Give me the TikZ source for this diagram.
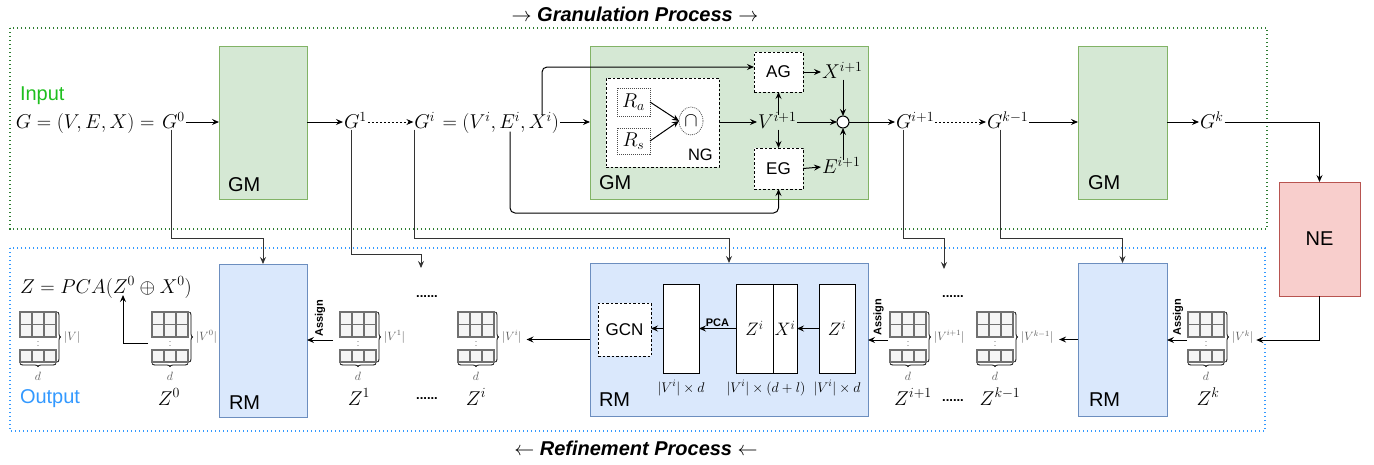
\RequirePackage{fix-cm}
\documentclass[tikz,border=0pt]{standalone}
\usepackage{fontspec}
\setmainfont{Liberation Sans}
\usetikzlibrary{arrows.meta,calc,decorations.pathreplacing,shapes.geometric}
\definecolor{gmfill}{HTML}{D5E8D4}
\definecolor{gmline}{HTML}{82B366}
\definecolor{rmfill}{HTML}{DAE8FC}
\definecolor{rmline}{HTML}{6C8EBF}
\definecolor{nefill}{HTML}{F8CECC}
\definecolor{neline}{HTML}{B85450}
\definecolor{gframe}{HTML}{2E7D32}
\definecolor{bframe}{HTML}{3399FF}
\definecolor{inputc}{HTML}{1FBF1F}
\definecolor{cellfill}{HTML}{F5F5F5}
\definecolor{cellline}{HTML}{707070}
\newcommand\myfs[1]{\fontsize{#1}{#1}\selectfont}
\tikzset{
  every node/.style={inner sep=1pt, outer sep=0pt},
  gm/.style={draw=gmline, fill=gmfill, line width=1pt, anchor=north west},
  rm/.style={draw=rmline, fill=rmfill, line width=1pt, anchor=north west},
  neb/.style={draw=neline, fill=nefill, line width=1pt, anchor=north west},
  dbox/.style={draw, dash pattern=on 2.5pt off 2pt, fill=white, line width=0.8pt, anchor=north west},
  rbox/.style={draw=black!70, dash pattern=on 1pt off 1pt, line width=0.7pt},
  wrect/.style={draw, fill=white, line width=1pt, anchor=north west},
  blab/.style={font=\myfs{20}},
  mrow/.style={font=\myfs{20}, text height=13pt, text depth=0pt},
  zlab/.style={font=\myfs{20}, anchor=base},
  smalllab/.style={font=\myfs{12}, text=black!65},
  bsmall/.style={font=\bfseries\myfs{11}},
  dotslab/.style={font=\bfseries\myfs{13}},
  arr/.style={-{Stealth[length=7pt,width=6pt,inset=2.5pt]}, line width=1pt},
  darr/.style={arr, dash pattern=on 2pt off 2pt},
  garr/.style={arr, draw=black!80},
  cell/.style={draw=cellline, fill=cellfill, line width=1.1pt},
  brc/.style={decorate, decoration={brace, amplitude=3pt}, draw=black, line width=0.8pt},
  frameg/.style={draw=gframe, line width=1.4pt, dash pattern=on 1.4pt off 2.6pt},
  frameb/.style={draw=bframe, line width=1.4pt, dash pattern=on 1.4pt off 2.6pt},
  mtx/.pic={
    \foreach \c in {0,1,2}{
      \foreach \r in {0,1}{\draw[cell] (12*\c,12.5*\r) rectangle ++(12,12.5);}
      \draw[cell] (12*\c,38) rectangle ++(12,12);
    }
    \node[font=\myfs{9}, text=black!60] (-vd) at (18,31) {$\vdots$};
    \draw[brc] (37.5,0) -- (37.5,50);
    \draw[brc] (36,51.5) -- (0,51.5);
    \node[smalllab, anchor=west] (-lab) at (43,25) {$#1$};
    \node[smalllab] (-d) at (18,64) {$d$};
    \node[inner sep=0pt, minimum width=36pt, minimum height=56pt] (-box) at (18,28) {};
  }
}
\begin{document}
\begin{tikzpicture}[x=1pt,y=-1pt]
\useasboundingbox (0,0) rectangle (1374,464);

% titles
\node[font=\bfseries\itshape\myfs{20}] (t1) at (635,14) {$\rightarrow$ Granulation Process $\rightarrow$};
\node[font=\bfseries\itshape\myfs{20}] (t2) at (636,448) {$\leftarrow$ Refinement Process $\leftarrow$};

% frames
\draw[frameg] (10,28) rectangle (1267,229);
\draw[frameb] (10,248) rectangle (1265,431);

\node[blab, text=inputc, anchor=base west] (inp) at (19,100) {Input};
\node[blab, text=bframe, anchor=base west] (outp) at (19,403) {Output};

% GM boxes
\node[gm, minimum width=88pt, minimum height=153pt] (gm1) at (219,46) {};
\node[blab, anchor=base west] (gm1l) at (227,191) {GM};
\node[gm, minimum width=278pt, minimum height=153pt] (gm2) at (590,46) {};
\node[blab, anchor=base west] (gm2l) at (598,189) {GM};
\node[gm, minimum width=89pt, minimum height=153pt] (gm3) at (1078,46) {};
\node[blab, anchor=base west] (gm3l) at (1087,189) {GM};

% RM boxes and NE
\node[rm, minimum width=88pt, minimum height=153pt] (rm1) at (219,264) {};
\node[blab, anchor=base west] (rm1l) at (228,409) {RM};
\node[rm, minimum width=278pt, minimum height=153pt] (rm2) at (590,263) {};
\node[blab, anchor=base west] (rm2l) at (598,406) {RM};
\node[rm, minimum width=89pt, minimum height=153pt] (rm3) at (1078,263) {};
\node[blab, anchor=base west] (rm3l) at (1088,406) {RM};
\node[neb, minimum width=81pt, minimum height=114pt, font=\myfs{20}] (ne) at (1279,182) {NE};

% main row
\node[mrow, anchor=west] (g0) at (161,122) {$G^0$};
\node[mrow, anchor=east] (gexp) at ([xshift=-5.5pt]g0.west) {$G=(V,E,X)=$};
\node[mrow, anchor=west] (g1) at (343,122) {$G^1$};
\node[mrow, anchor=east] (tuple) at (560,122) {$\;=(V^i,E^i,X^i)$};
\node[mrow, anchor=east] (gi) at (tuple.west) {$G^i$};
\node[mrow, anchor=west] (gi1) at (895,122) {$G^{i+1}$};
\node[mrow, anchor=west] (gk1) at (986,122) {$G^{k-1}$};
\node[mrow, anchor=west] (gk) at (1199,122) {$G^k$};

% GM2 internals
\node[dbox, minimum width=113pt, minimum height=89pt] (ng) at (606,78) {};
\node[font=\myfs{16.5}, anchor=base west] (ngl) at (687,160) {NG};
\node[rbox, minimum width=33pt, minimum height=28pt, font=\myfs{20}] (ra) at (633.5,102) {$R_a$};
\node[rbox, minimum width=33pt, minimum height=26pt, font=\myfs{20}] (rs) at (633.5,141) {$R_s$};
\node[rbox, ellipse, minimum width=24pt, minimum height=28pt, font=\myfs{20}] (cap) at (691,121) {$\cap$};
\node[dbox, minimum width=49pt, minimum height=40pt, font=\myfs{17}] (ag) at (754,52) {AG};
\node[dbox, minimum width=49pt, minimum height=41pt, font=\myfs{17}] (eg) at (754,148) {EG};
\node[mrow, anchor=west] (vi1) at (757,122) {$V^{i+1}$};
\node[mrow, anchor=west] (xi1) at (821,72) {$X^{i+1}$};
\node[mrow, anchor=west] (ei1) at (821,167) {$E^{i+1}$};
\node[circle, draw, fill=white, line width=1pt, minimum size=12pt, inner sep=0pt] (circ) at (843,122) {};

\draw[arr] (ra.east) -- (cap.west);
\draw[arr] (rs.east) -- (cap.west);
\draw[arr] (ng.east |- vi1.west) -- (vi1.west);
\draw[arr] (ag.south |- vi1.north) -- (ag.south);
\draw[arr] (eg.north |- vi1.south) -- (eg.north);
\draw[arr] (ag.east) -- (xi1.west);
\draw[arr] (eg.east) -- (ei1.west);
\draw[arr] (circ.north |- xi1.south) -- (circ.north);
\draw[arr] (circ.south |- ei1.north) -- (circ.south);
\draw[arr] (vi1.east) -- (circ.west);

\coordinate (xiP) at ($(tuple.north east)+(-18,0)$);
\coordinate (eiP) at ($(tuple.south east)+(-50,2)$);
\draw[arr, rounded corners=5pt] (xiP) |- ($(ag.west)+(0,-5)$);
\draw[arr, rounded corners=5pt] (eiP) |- ($(eg.south)+(0,24)$) -- (eg.south);

% main row connectors
\draw[arr] (g0.east) -- (gm1.west |- g0.east);
\draw[arr] (gm1.east |- g1.west) -- (g1.west);
\draw[darr] (g1.east) -- (gi.west);
\draw[arr] (tuple.east) -- (gm2.west |- tuple.east);
\draw[arr] (circ.east) -- (gi1.west |- circ.east);
\draw[darr] (gi1.east) -- (gk1.west);
\draw[arr] (gk1.east) -- (gm3.west |- gk1.east);
\draw[arr] (gm3.east |- gk.west) -- (gk.west);
\draw[arr] (gk.east) -| (ne.north);

% lower row
\node[font=\myfs{20}, anchor=base west] (pca) at (19,293) {$Z=PCA(Z^0\oplus X^0)$};
\pic (zv) at (20,312) {mtx={|V|}};
\pic (z0) at (152,312) {mtx={|V^0|}};
\pic (z1) at (340,312) {mtx={|V^1|}};
\pic (zi) at (458,312) {mtx={|V^i|}};
\pic (zi1) at (890,312) {mtx={|V^{i+1}|}};
\pic (zk1) at (977,312) {mtx={|V^{k-1}|}};
\pic (zk) at (1188,312) {mtx={|V^k|}};

\node[zlab] (Z0) at (169,405) {$Z^0$};
\node[zlab] (Z1) at (359,405) {$Z^1$};
\node[zlab] (Zi) at (476,405) {$Z^i$};
\node[zlab] (Zi1) at (913,405) {$Z^{i+1}$};
\node[zlab] (Zk1) at (1000,405) {$Z^{k-1}$};
\node[zlab] (Zk) at (1208,405) {$Z^k$};

\node[dotslab] (dt1) at (427,297) {......};
\node[dotslab] (dt2) at (427,399) {......};
\node[dotslab] (dt3) at (953,297) {......};
\node[dotslab] (dt4) at (953,401) {......};
\coordinate (dA) at (421,268);
\coordinate (dB) at (944,269);

% RM2 internals
\node[dbox, minimum width=53pt, minimum height=53pt, font=\myfs{17}] (gcn) at (598,303) {GCN};
\node[wrect, minimum width=36pt, minimum height=89pt] (r1) at (663,284) {};
\node[wrect, minimum width=37pt, minimum height=89pt, font=\myfs{18}] (r2a) at (736,284) {$Z^i$};
\node[wrect, minimum width=24pt, minimum height=89pt, font=\myfs{18}] (r2b) at (773,284) {$X^i$};
\node[wrect, minimum width=36pt, minimum height=89pt, font=\myfs{18}] (r3) at (819,284) {$Z^i$};
\node[font=\myfs{14}] (r1l) at ($(r1.south)+(0,15)$) {$|V^i|\times d$};
\node[font=\myfs{14}] (r2l) at ($(r2a.south east)+(-7,15)$) {$|V^i|\times(d+l)$};
\node[font=\myfs{14}] (r3l) at ($(r3.south)+(0,15)$) {$|V^i|\times d$};
\draw[arr] (r3.west) -- (r2b.east);
\draw[arr] (r2a.west) -- node[bsmall, above=1pt] (pcal) {PCA} (r1.east);
\draw[arr] (r1.west) -- (gcn.east |- r1.west);

% G to lower connectors
\draw[garr] ($(g0.south west)+(10,0)$) |- ($(rm1.north)+(0,-26)$) -- (rm1.north);
\draw[garr] ($(g1.south west)+(8,0)$) |- ($(dA)+(0,-14)$) -- (dA);
\draw[garr] ($(gi.south west)+(1,0)$) |- ($(rm2.north)+(0,-25)$) -- (rm2.north);
\draw[garr] ($(gi1.south west)+(8,0)$) |- ($(dB)+(0,-31)$) -- (dB);
\draw[garr] ($(gk1.south west)+(14,0)$) |- ($(rm3.north)+(0,-25)$) -- (rm3.north);

% lower connectors
\draw[arr] ([xshift=-4pt,yshift=-3pt]z0-box.west) -| ($(pca.base west)+(104,2)$);
\draw[arr] ([xshift=-7pt]z1-box.west) -- (rm1.east |- z1-box.west);
\node[bsmall, rotate=90] (as1) at ([xshift=-20pt,yshift=22pt]z1-box.west) {Assign};
\draw[arr] (rm2.west) -- ($(rm2.west -| zi-lab.east)+(4,0)$);
\draw[arr] ([xshift=-2pt]zi1-box.west) -- (rm2.east |- zi1-box.west);
\node[bsmall, rotate=90] (as2) at ([xshift=-11.5pt,yshift=23pt]zi1-box.west) {Assign};
\draw[arr] (rm3.west) -- ($(rm3.west -| zk1-lab.east)+(5,0)$);
\draw[arr] ([xshift=-1pt]zk-box.west) -- (rm3.east |- zk-box.west);
\node[bsmall, rotate=90] (as3) at ([xshift=-10pt,yshift=23pt]zk-box.west) {Assign};
\draw[arr] (ne.south) |- ($(zk-lab.east |- zk-box.east)+(2,0)$);
\end{tikzpicture}
\end{document}
